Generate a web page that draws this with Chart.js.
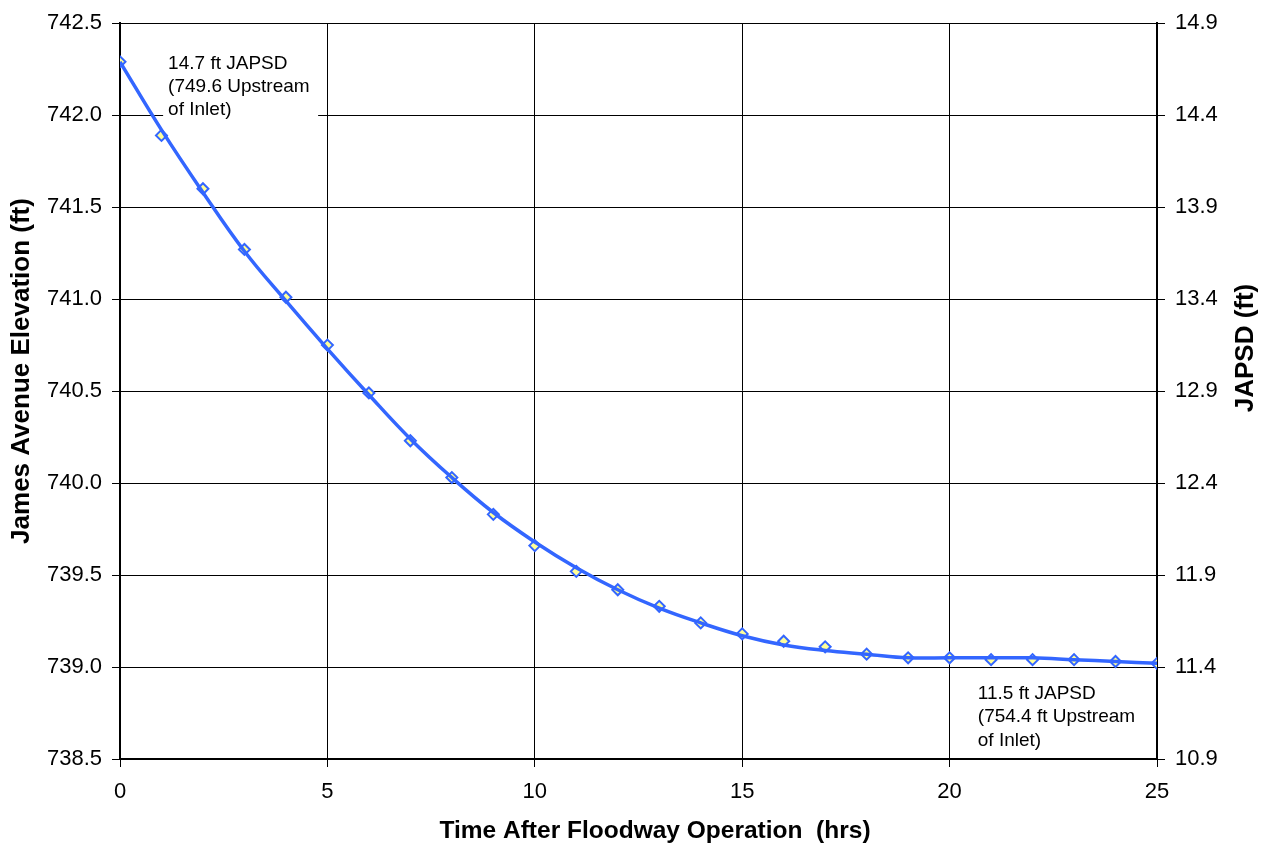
<!DOCTYPE html>
<html>
<head>
<meta charset="utf-8">
<script src="https://cdn.jsdelivr.net/npm/chart.js@4.4.1/dist/chart.umd.min.js"></script>
<style>
  html, body { margin: 0; padding: 0; background: #fff; }
  #c { display: block; }
</style>
</head>
<body>
<canvas id="c" width="1261" height="844"></canvas>
<script>
// ---- Data ----
const hours = [0,1,2,3,4,5,6,7,8,9,10,11,12,13,14,15,16,17,18,19,20,21,22,23,24,25];
const elevation = [742.29,741.89,741.60,741.27,741.01,740.75,740.49,740.23,740.03,739.83,739.66,739.52,739.42,739.33,739.24,739.18,739.14,739.11,739.07,739.05,739.05,739.04,739.04,739.04,739.03,739.02];
const trendline = [742.29,741.92,741.58,741.26,740.99,740.73,740.48,740.24,740.03,739.84,739.68,739.54,739.42,739.32,739.24,739.17,739.12,739.09,739.07,739.05,739.05,739.05,739.05,739.04,739.03,739.02];
const leftTicks = [738.5,739.0,739.5,740.0,740.5,741.0,741.5,742.0,742.5];
const rightTicks = [10.9,11.4,11.9,12.4,12.9,13.4,13.9,14.4,14.9];
const xTicks = [0,5,10,15,20,25];
const noteTop = ["14.7 ft JAPSD", "(749.6 Upstream", "of Inlet)"];
const noteBottom = ["11.5 ft JAPSD", "(754.4 ft Upstream", "of Inlet)"];
const xTitle = "Time After Floodway Operation  (hrs)";
const yTitle = "James Avenue Elevation (ft)";
const y2Title = "JAPSD (ft)";

const FONT = "'Liberation Sans', Arial, Helvetica, sans-serif";

const annotations = {
  id: 'annotations',
  beforeDatasetsDraw(chart) {
    const {ctx, scales} = chart;
    const sx = scales.x, sy = scales.y;
    ctx.save();
    ctx.font = "19px " + FONT;
    ctx.textBaseline = 'middle';
    ctx.textAlign = 'left';
    let x0 = sx.getPixelForValue(1.16), y0 = sy.getPixelForValue(742.28);
    ctx.fillStyle = '#fff';
    ctx.fillRect(x0 - 5, y0 - 16, 155, 82);
    ctx.fillStyle = '#000';
    noteTop.forEach((t, i) => ctx.fillText(t, x0, y0 + i * 23));
    let x1 = sx.getPixelForValue(20.68), y1 = sy.getPixelForValue(738.857);
    noteBottom.forEach((t, i) => ctx.fillText(t, x1, y1 + i * 23.5));
    ctx.restore();
  },
  afterDraw(chart) {
    const {ctx} = chart;
    ctx.save();
    ctx.fillStyle = '#000';
    ctx.textAlign = 'center';
    ctx.textBaseline = 'middle';
    ctx.font = "bold 24.5px " + FONT;
    ctx.fillText(xTitle, 655, 831);
    ctx.font = "bold 26px " + FONT;
    ctx.save();
    ctx.translate(22, 371);
    ctx.rotate(-Math.PI / 2);
    ctx.fillText(yTitle, 0, 0);
    ctx.restore();
    ctx.save();
    ctx.translate(1246, 348);
    ctx.rotate(-Math.PI / 2);
    ctx.fillText(y2Title, 0, 0);
    ctx.restore();
    ctx.restore();
  }
};

new Chart(document.getElementById('c'), {
  type: 'line',
  data: {
    datasets: [
      {
        label: 'Trend',
        data: hours.map((h, i) => ({x: h, y: trendline[i]})),
        borderColor: '#3366FF',
        borderWidth: 3.5,
        pointRadius: 0,
        tension: 0.4,
        fill: false,
        yAxisID: 'y'
      },
      {
        label: 'JAPSD',
        data: hours.map((h, i) => ({x: h, y: elevation[i]})),
        showLine: false,
        pointStyle: 'rectRot',
        pointRadius: 5.5,
        pointBorderWidth: 2,
        pointBorderColor: '#3366FF',
        pointBackgroundColor: '#FFFF99',
        yAxisID: 'y'
      }
    ]
  },
  options: {
    responsive: false,
    animation: false,
    layout: { padding: { top: 17, left: 0, right: 0, bottom: 0 } },
    plugins: { legend: { display: false }, tooltip: { enabled: false } },
    scales: {
      x: {
        type: 'linear',
        min: 0, max: 25,
        afterBuildTicks: (s) => { s.ticks = xTicks.map(v => ({value: v})); },
        afterFit: (s) => { s.height = 85; },
        grid: { color: '#000', lineWidth: 1, tickLength: 8 },
        border: { color: '#000', width: 2 },
        ticks: { color: '#000', font: { family: FONT, size: 22 }, padding: 12, maxRotation: 0 }
      },
      y: {
        type: 'linear',
        position: 'left',
        min: 738.5, max: 742.5,
        afterBuildTicks: (s) => { s.ticks = leftTicks.map(v => ({value: v})); },
        afterFit: (s) => { s.width = 120; },
        grid: { color: '#000', lineWidth: 1, tickLength: 8 },
        border: { color: '#000', width: 2 },
        ticks: { color: '#000', font: { family: FONT, size: 22 }, padding: 10,
                 callback: (v) => Number(v).toFixed(1) }
      },
      y2: {
        type: 'linear',
        position: 'right',
        min: 10.9, max: 14.9,
        afterBuildTicks: (s) => { s.ticks = rightTicks.map(v => ({value: v})); },
        afterFit: (s) => { s.width = 104; },
        grid: { drawOnChartArea: false, color: '#000', lineWidth: 1, tickLength: 8 },
        border: { color: '#000', width: 2 },
        ticks: { color: '#000', font: { family: FONT, size: 22 }, padding: 10,
                 callback: (v) => Number(v).toFixed(1) }
      }
    }
  },
  plugins: [annotations]
});
</script>
</body>
</html>
